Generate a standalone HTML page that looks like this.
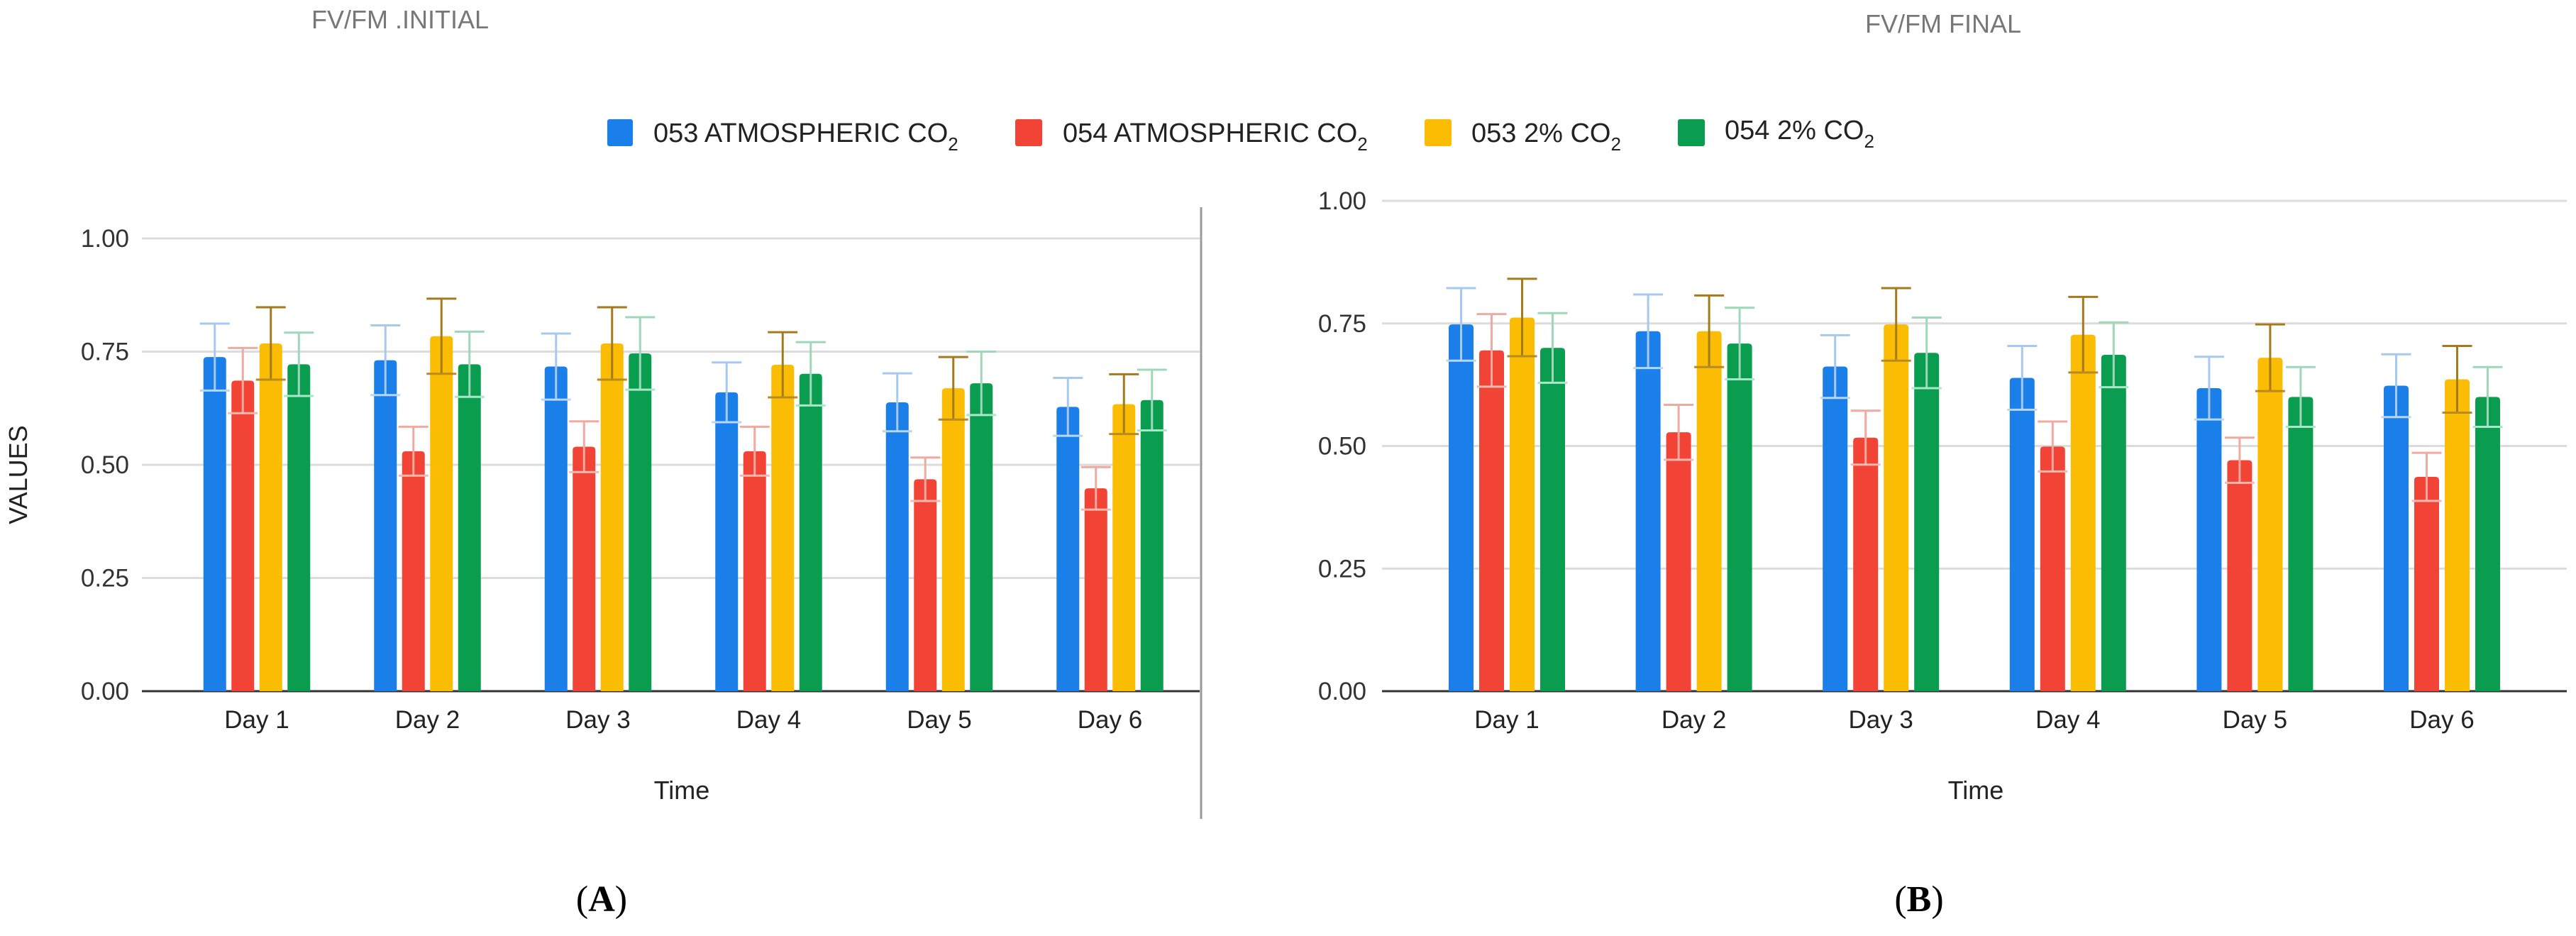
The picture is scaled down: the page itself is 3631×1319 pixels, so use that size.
<!DOCTYPE html>
<html><head><meta charset="utf-8"><style>
html,body{margin:0;padding:0;background:#fff;}
svg{display:block;font-family:"Liberation Sans",Arial,sans-serif;}
</style></head><body>
<svg id="fig" width="3631" height="1319" viewBox="0 0 3631 1319" xmlns="http://www.w3.org/2000/svg">
<rect x="0" y="0" width="3631" height="1319" fill="#fff"/>
<text x="439" y="40" font-size="36" fill="#777">FV/FM .INITIAL</text>
<text x="2629" y="46" font-size="36" fill="#777">FV/FM FINAL</text>
<g font-size="38" fill="#222">
 <g><rect x="856" y="168" width="36" height="38" rx="3" fill="#1a7fe8"/><text x="921" y="200">053 ATMOSPHERIC CO<tspan font-size="26" dy="12">2</tspan></text></g>
 <g><rect x="1431" y="168" width="38" height="38" rx="3" fill="#f14436"/><text x="1498" y="200">054 ATMOSPHERIC  CO<tspan font-size="26" dy="12">2</tspan></text></g>
 <g><rect x="2008" y="168" width="38" height="38" rx="3" fill="#fbbc04"/><text x="2074" y="200">053 2%  CO<tspan font-size="26" dy="12">2</tspan></text></g>
 <g><rect x="2365" y="168" width="38" height="38" rx="3" fill="#0a9d50"/><text x="2431" y="196">054 2% CO<tspan font-size="26" dy="12">2</tspan></text></g>
</g>
<line x1="1693" y1="292" x2="1693" y2="1154" stroke="#999" stroke-width="3"/>
<text transform="translate(38,669) rotate(-90)" text-anchor="middle" font-size="36" fill="#222">VALUES</text>
<text x="961" y="1126" text-anchor="middle" font-size="36" fill="#222">Time</text>
<text x="2785" y="1126" text-anchor="middle" font-size="36" fill="#222">Time</text>
<text x="848" y="1284" text-anchor="middle" font-size="52" font-family="Liberation Serif,serif" fill="#000">(<tspan font-weight="bold">A</tspan>)</text>
<text x="2705" y="1284" text-anchor="middle" font-size="52" font-family="Liberation Serif,serif" fill="#000">(<tspan font-weight="bold">B</tspan>)</text>
<g id="chartA"></g>
<g id="chartB"></g>
</svg>
<script>
const categories = ["Day 1","Day 2","Day 3","Day 4","Day 5","Day 6"];
const yTicks = [0, 0.25, 0.5, 0.75, 1.0];
const yTickLabels = ["0.00","0.25","0.50","0.75","1.00"];
const seriesNames = ["053 ATMOSPHERIC CO2","054 ATMOSPHERIC CO2","053 2% CO2","054 2% CO2"];
const seriesKeys = ["053-atm","054-atm","053-2pct","054-2pct"];
const aBlue = [0.738,0.731,0.717,0.660,0.638,0.628];
const aRed = [0.686,0.530,0.540,0.530,0.468,0.448];
const aYellow = [0.768,0.784,0.768,0.721,0.669,0.634];
const aGreen = [0.722,0.722,0.746,0.701,0.680,0.643];
const aBlueErr = [0.074,0.077,0.073,0.066,0.064,0.064];
const aRedErr = [0.072,0.054,0.056,0.054,0.048,0.047];
const aYellowErr = [0.080,0.083,0.080,0.072,0.069,0.066];
const aGreenErr = [0.070,0.072,0.080,0.070,0.070,0.067];
const bBlue = [0.748,0.734,0.662,0.639,0.618,0.623];
const bRed = [0.695,0.528,0.517,0.499,0.471,0.437];
const bYellow = [0.762,0.734,0.748,0.727,0.680,0.636];
const bGreen = [0.700,0.709,0.690,0.686,0.600,0.600];
const bBlueErr = [0.074,0.075,0.064,0.065,0.064,0.064];
const bRedErr = [0.074,0.056,0.055,0.051,0.046,0.049];
const bYellowErr = [0.079,0.073,0.074,0.077,0.068,0.068];
const bGreenErr = [0.071,0.073,0.072,0.066,0.061,0.061];

const NS = "http://www.w3.org/2000/svg";
const colors = ["#1a7fe8","#f14436","#fbbc04","#0a9d50"];
const errColors = ["#a8c9ef","#f0aaa2","#a57a1c","#9fd8b8"];
const lowColors = ["#b8d6f7","#f7b8b0","#b88a20","#a8e8c8"];

function mk(tag, attrs, parent){
  const e = document.createElementNS(NS, tag);
  for (const k in attrs) e.setAttribute(k, attrs[k]);
  parent.appendChild(e); return e;
}

function drawChart(g, prefix, cfg, series, errs){
  const yScale = v => cfg.y0 - v * (cfg.y0 - cfg.y1);
  const xScale = i => cfg.c0 + i * cfg.step;
  yTicks.forEach((t, i) => {
    const y = yScale(t);
    const ln = mk("line", {x1: cfg.xl, x2: cfg.xr, y1: y, y2: y, stroke: i === 0 ? "#333" : "#dcdcdc", "stroke-width": 3}, g);
    
    
    const tx = mk("text", {x: cfg.lx, y: y + 12, "text-anchor": "end", "font-size": 35, fill: "#333"}, g);
    tx.textContent = yTickLabels[i];
    
    
  });
  categories.forEach((c, ci) => {
    const cx = xScale(ci);
    series.forEach((vals, si) => {
      const bx = cx + (si - 1.5) * cfg.pitch - cfg.bw / 2;
      const top = yScale(vals[ci]), base = yScale(0);
      const r = mk("path", {d: `M${bx},${base} L${bx},${top+5} Q${bx},${top} ${bx+5},${top} L${bx+cfg.bw-5},${top} Q${bx+cfg.bw},${top} ${bx+cfg.bw},${top+5} L${bx+cfg.bw},${base} Z`, fill: colors[si]}, g);
      
      
      const ex = bx + cfg.bw / 2;
      const hi = yScale(vals[ci] + errs[si][ci]), lo = yScale(vals[ci] - errs[si][ci]);
      const eg = mk("g", {}, g);
      
      
      mk("line", {x1: ex, x2: ex, y1: hi, y2: lo, stroke: errColors[si], "stroke-width": 3}, eg);
      mk("line", {x1: ex - cfg.cap, x2: ex + cfg.cap, y1: hi, y2: hi, stroke: errColors[si], "stroke-width": 3}, eg);
      mk("line", {x1: ex - cfg.cap, x2: ex + cfg.cap, y1: lo, y2: lo, stroke: lowColors[si], "stroke-width": 3}, eg);
    });
    const lt = mk("text", {x: cx, y: cfg.y0 + 52, "text-anchor": "middle", "font-size": 35, fill: "#222"}, g);
    lt.textContent = c;
    
    
  });
}

drawChart(document.getElementById("chartA"), "chart-a",
  {y0: 974, y1: 336, xl: 200, xr: 1691, lx: 182, c0: 362, step: 240.5, pitch: 39.5, bw: 32, cap: 21},
  [aBlue, aRed, aYellow, aGreen], [aBlueErr, aRedErr, aYellowErr, aGreenErr]);
drawChart(document.getElementById("chartB"), "chart-b",
  {y0: 974, y1: 283, xl: 1948, xr: 3618, lx: 1926, c0: 2124, step: 263.6, pitch: 43, bw: 35, cap: 21},
  [bBlue, bRed, bYellow, bGreen], [bBlueErr, bRedErr, bYellowErr, bGreenErr]);
</script>
</body></html>
